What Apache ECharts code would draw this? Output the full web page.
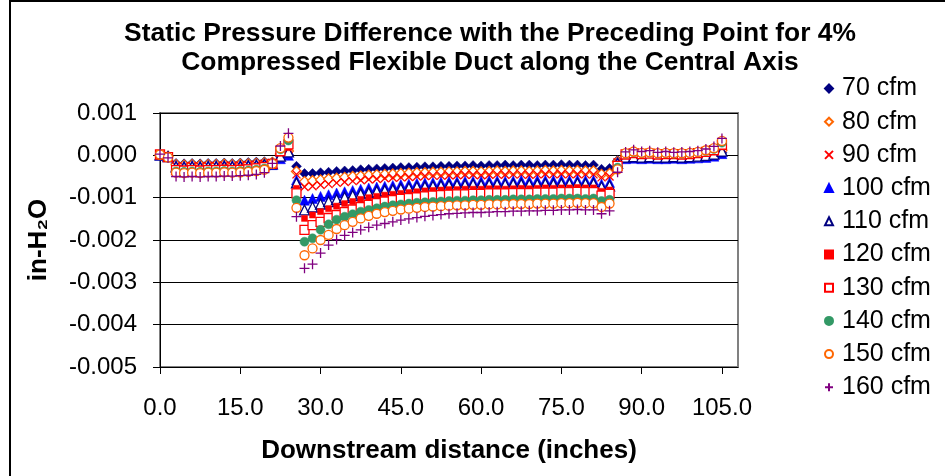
<!DOCTYPE html>
<html>
<head>
<meta charset="utf-8">
<script src="https://cdn.jsdelivr.net/npm/echarts@6/dist/echarts.min.js"></script>
<style>
html,body{margin:0;padding:0;background:#fff;}
#frame{position:absolute;left:9px;top:0;width:940px;height:480px;border-left:2px solid #000;border-top:2px solid #000;box-sizing:border-box;}
#chart{position:absolute;left:0;top:0;width:945px;height:476px;}
</style>
</head>
<body>
<div id="frame"></div>
<div id="chart"></div>
<script>
const titleText = 'Static Pressure Difference with the Preceding Point for 4%\nCompressed Flexible Duct along the Central Axis';
const xAxisName = 'Downstream distance (inches)';
const yAxisName = 'in-H\u2082O';
const xTicks = [0, 15, 30, 45, 60, 75, 90, 105];

// Downstream distance (inches)
const distance = [0,1.5,3,4.5,6,7.5,9,10.5,12,13.5,15,16.5,18,19.5,21,22.5,24,25.5,27,28.5,30,31.5,33,34.5,36,37.5,39,40.5,42,43.5,45,46.5,48,49.5,51,52.5,54,55.5,57,58.5,60,61.5,63,64.5,66,67.5,69,70.5,72,73.5,75,76.5,78,79.5,81,82.5,84,85.5,87,88.5,90,91.5,93,94.5,96,97.5,99,100.5,102,103.5,105];

const seriesNames = ['70 cfm','80 cfm','90 cfm','100 cfm','110 cfm','120 cfm','130 cfm','140 cfm','150 cfm','160 cfm'];

const cfm70 = [0.00000,-0.00002,
 -0.00019,-0.00020,-0.00019,-0.00020,-0.00019,-0.00019,-0.00018,-0.00019,-0.00018,-0.00017,-0.00016,-0.00015,-0.00016,
 -0.00003,0.00002,
 -0.00026,-0.00043,-0.00043,-0.00041,-0.00040,-0.00038,-0.00037,-0.00036,-0.00034,-0.00033,-0.00032,-0.00031,-0.00030,-0.00029,-0.00029,-0.00028,-0.00027,-0.00027,-0.00026,
 -0.00026,-0.00025,-0.00025,-0.00024,-0.00025,-0.00024,-0.00024,-0.00023,-0.00024,-0.00023,-0.00023,-0.00024,-0.00023,-0.00023,-0.00022,-0.00023,-0.00023,-0.00024,-0.00023,
 -0.00033,-0.00031,-0.00012,
 -0.00004,-0.00003,-0.00004,-0.00003,-0.00004,-0.00004,-0.00003,-0.00004,-0.00003,-0.00003,-0.00002,0.00000,0.00006];

const cfm80 = [0.00001,-0.00002,
 -0.00022,-0.00023,-0.00022,-0.00023,-0.00022,-0.00022,-0.00021,-0.00022,-0.00021,-0.00020,-0.00019,-0.00018,-0.00017,
 0.00003,0.00010,
 -0.00038,-0.00062,-0.00060,-0.00058,-0.00056,-0.00054,-0.00052,-0.00050,-0.00049,-0.00047,-0.00046,-0.00045,-0.00044,-0.00043,-0.00042,-0.00041,-0.00041,-0.00040,-0.00040,
 -0.00039,-0.00039,-0.00038,-0.00038,-0.00039,-0.00038,-0.00037,-0.00038,-0.00037,-0.00037,-0.00038,-0.00037,-0.00036,-0.00037,-0.00036,-0.00037,-0.00036,-0.00037,-0.00037,
 -0.00045,-0.00043,-0.00015,
 -0.00002,0.00000,-0.00001,0.00000,-0.00001,-0.00001,0.00000,-0.00001,0.00000,0.00001,0.00003,0.00005,0.00012];

const cfm90 = [0.00001,-0.00003,
 -0.00025,-0.00026,-0.00025,-0.00026,-0.00025,-0.00025,-0.00024,-0.00025,-0.00024,-0.00023,-0.00022,-0.00020,-0.00018,
 0.00006,0.00015,
 -0.00045,-0.00075,-0.00073,-0.00070,-0.00068,-0.00065,-0.00063,-0.00061,-0.00059,-0.00057,-0.00056,-0.00054,-0.00053,-0.00052,-0.00051,-0.00050,-0.00049,-0.00048,-0.00048,
 -0.00047,-0.00047,-0.00046,-0.00046,-0.00047,-0.00046,-0.00045,-0.00046,-0.00045,-0.00045,-0.00046,-0.00045,-0.00044,-0.00045,-0.00044,-0.00045,-0.00044,-0.00045,-0.00045,
 -0.00052,-0.00050,-0.00016,
 -0.00001,0.00001,0.00000,0.00001,0.00000,0.00000,0.00001,0.00000,0.00001,0.00002,0.00004,0.00007,0.00016];

const cfm100 = [0.00000,-0.00003,
 -0.00024,-0.00025,-0.00024,-0.00025,-0.00024,-0.00024,-0.00023,-0.00024,-0.00023,-0.00022,-0.00021,-0.00020,-0.00022,
 -0.00008,0.00000,
 -0.00058,-0.00106,-0.00102,-0.00097,-0.00093,-0.00089,-0.00086,-0.00083,-0.00080,-0.00077,-0.00075,-0.00073,-0.00071,-0.00069,-0.00068,-0.00066,-0.00065,-0.00064,-0.00063,
 -0.00062,-0.00062,-0.00061,-0.00061,-0.00061,-0.00060,-0.00060,-0.00061,-0.00060,-0.00059,-0.00060,-0.00059,-0.00059,-0.00059,-0.00058,-0.00059,-0.00058,-0.00059,-0.00059,
 -0.00068,-0.00064,-0.00016,
 -0.00008,-0.00007,-0.00008,-0.00007,-0.00008,-0.00008,-0.00007,-0.00008,-0.00007,-0.00006,-0.00005,-0.00002,0.00004];

const cfm110 = [0.00001,-0.00003,
 -0.00027,-0.00028,-0.00027,-0.00028,-0.00027,-0.00027,-0.00026,-0.00027,-0.00026,-0.00025,-0.00024,-0.00022,-0.00020,
 -0.00002,0.00008,
 -0.00065,-0.00129,-0.00122,-0.00115,-0.00109,-0.00104,-0.00099,-0.00095,-0.00091,-0.00088,-0.00085,-0.00083,-0.00081,-0.00079,-0.00077,-0.00075,-0.00074,-0.00073,-0.00072,
 -0.00071,-0.00070,-0.00070,-0.00069,-0.00070,-0.00069,-0.00068,-0.00069,-0.00068,-0.00068,-0.00069,-0.00068,-0.00067,-0.00068,-0.00067,-0.00067,-0.00066,-0.00067,-0.00067,
 -0.00075,-0.00072,-0.00019,
 -0.00004,-0.00003,-0.00004,-0.00003,-0.00004,-0.00004,-0.00003,-0.00004,-0.00003,-0.00002,0.00000,0.00003,0.00010];

const cfm120 = [0.00001,-0.00004,
 -0.00031,-0.00032,-0.00031,-0.00032,-0.00031,-0.00031,-0.00030,-0.00031,-0.00030,-0.00029,-0.00027,-0.00025,-0.00021,
 0.00005,0.00018,
 -0.00078,-0.00149,-0.00141,-0.00133,-0.00126,-0.00120,-0.00114,-0.00109,-0.00104,-0.00100,-0.00097,-0.00094,-0.00092,-0.00090,-0.00088,-0.00086,-0.00084,-0.00083,-0.00082,
 -0.00081,-0.00081,-0.00080,-0.00080,-0.00080,-0.00079,-0.00079,-0.00080,-0.00079,-0.00078,-0.00079,-0.00078,-0.00077,-0.00078,-0.00077,-0.00077,-0.00076,-0.00077,-0.00077,
 -0.00085,-0.00082,-0.00022,
 0.00001,0.00003,0.00001,0.00002,0.00001,0.00001,0.00002,0.00001,0.00002,0.00003,0.00006,0.00010,0.00020];

const cfm130 = [0.00002,-0.00004,
 -0.00035,-0.00036,-0.00035,-0.00036,-0.00035,-0.00035,-0.00034,-0.00035,-0.00034,-0.00033,-0.00031,-0.00028,-0.00020,
 0.00010,0.00026,
 -0.00090,-0.00176,-0.00165,-0.00157,-0.00148,-0.00141,-0.00134,-0.00128,-0.00122,-0.00117,-0.00113,-0.00109,-0.00106,-0.00103,-0.00101,-0.00099,-0.00097,-0.00095,-0.00094,
 -0.00093,-0.00092,-0.00092,-0.00091,-0.00091,-0.00090,-0.00090,-0.00090,-0.00089,-0.00089,-0.00089,-0.00088,-0.00088,-0.00088,-0.00087,-0.00087,-0.00086,-0.00087,-0.00087,
 -0.00095,-0.00091,-0.00025,
 0.00002,0.00005,0.00003,0.00004,0.00002,0.00003,0.00003,0.00002,0.00003,0.00005,0.00008,0.00012,0.00025];

const cfm140 = [0.00002,-0.00005,
 -0.00038,-0.00039,-0.00038,-0.00039,-0.00038,-0.00038,-0.00037,-0.00038,-0.00037,-0.00036,-0.00034,-0.00031,-0.00020,
 0.00014,0.00035,
 -0.00106,-0.00204,-0.00196,-0.00176,-0.00163,-0.00152,-0.00145,-0.00139,-0.00133,-0.00129,-0.00125,-0.00121,-0.00118,-0.00116,-0.00114,-0.00112,-0.00111,-0.00110,-0.00109,
 -0.00108,-0.00107,-0.00107,-0.00106,-0.00106,-0.00105,-0.00105,-0.00105,-0.00104,-0.00104,-0.00104,-0.00103,-0.00103,-0.00103,-0.00102,-0.00102,-0.00102,-0.00103,-0.00102,
 -0.00108,-0.00105,-0.00029,
 0.00004,0.00007,0.00005,0.00006,0.00004,0.00005,0.00004,0.00004,0.00005,0.00007,0.00010,0.00015,0.00030];

const cfm150 = [0.00002,-0.00005,
 -0.00041,-0.00042,-0.00041,-0.00042,-0.00041,-0.00041,-0.00040,-0.00041,-0.00040,-0.00039,-0.00037,-0.00034,-0.00020,
 0.00017,0.00042,
 -0.00124,-0.00236,-0.00220,-0.00200,-0.00188,-0.00174,-0.00165,-0.00157,-0.00149,-0.00143,-0.00138,-0.00134,-0.00131,-0.00128,-0.00126,-0.00124,-0.00122,-0.00121,-0.00120,
 -0.00119,-0.00118,-0.00118,-0.00117,-0.00117,-0.00116,-0.00116,-0.00116,-0.00115,-0.00115,-0.00115,-0.00114,-0.00114,-0.00114,-0.00113,-0.00113,-0.00112,-0.00113,-0.00113,
 -0.00122,-0.00114,-0.00033,
 0.00005,0.00009,0.00006,0.00007,0.00005,0.00006,0.00005,0.00005,0.00006,0.00008,0.00012,0.00017,0.00034];

const cfm160 = [0.00003,-0.00006,
 -0.00050,-0.00051,-0.00050,-0.00051,-0.00050,-0.00050,-0.00049,-0.00049,-0.00048,-0.00047,-0.00045,-0.00041,-0.00019,
 0.00022,0.00052,
 -0.00145,-0.00267,-0.00257,-0.00231,-0.00212,-0.00199,-0.00189,-0.00182,-0.00176,-0.00170,-0.00165,-0.00161,-0.00157,-0.00153,-0.00150,-0.00147,-0.00144,-0.00142,-0.00140,
 -0.00138,-0.00137,-0.00136,-0.00135,-0.00135,-0.00134,-0.00133,-0.00133,-0.00132,-0.00132,-0.00131,-0.00131,-0.00130,-0.00130,-0.00129,-0.00129,-0.00128,-0.00129,-0.00129,
 -0.00138,-0.00131,-0.00040,
 0.00008,0.00013,0.00009,0.00011,0.00007,0.00009,0.00007,0.00008,0.00009,0.00011,0.00015,0.00021,0.00040];

const seriesValues = [cfm70, cfm80, cfm90, cfm100, cfm110, cfm120, cfm130, cfm140, cfm150, cfm160];

const X_PATH = 'path://M0,0L10,10M10,0L0,10';
const PLUS_PATH = 'path://M5,0L5,10M0,5L10,5';
const markerStyles = [
  {symbol:'diamond', size:10, fill:'#000080', stroke:'#000080', bw:0.5},
  {symbol:'diamond', size:10, fill:'#ffffff', stroke:'#FF6600', bw:1.3},
  {symbol:X_PATH, size:8, fill:'#FF0000', stroke:'#FF0000', bw:1.3},
  {symbol:'triangle', size:10, fill:'#0000FF', stroke:'#0000FF', bw:0.5},
  {symbol:'triangle', size:10, fill:'#ffffff', stroke:'#000080', bw:1.3},
  {symbol:'rect', size:6, fill:'#FF0000', stroke:'#FF0000', bw:0.5},
  {symbol:'rect', size:9, fill:'#ffffff', stroke:'#FF0000', bw:1.3},
  {symbol:'circle', size:9, fill:'#339966', stroke:'#339966', bw:0.5},
  {symbol:'circle', size:9, fill:'#ffffff', stroke:'#FF6600', bw:1.3},
  {symbol:PLUS_PATH, size:10, fill:'#800080', stroke:'#800080', bw:1.3}
];

const FONT = '"Liberation Sans", Arial, sans-serif';

const series = seriesNames.map((name, i) => ({
  name: name,
  type: 'scatter',
  symbol: markerStyles[i].symbol,
  symbolSize: markerStyles[i].size,
  itemStyle: {color: markerStyles[i].fill, borderColor: markerStyles[i].stroke, borderWidth: markerStyles[i].bw, opacity: 1},
  emphasis: {disabled: true},
  data: distance.map((d, j) => [d, seriesValues[i][j]])
}));

const chart = echarts.init(document.getElementById('chart'), null, {renderer: 'canvas'});
chart.setOption({
  animation: false,
  backgroundColor: 'transparent',
  title: {
    text: titleText,
    left: 485,
    top: 14,
    textAlign: 'center',
    textStyle: {fontFamily: FONT, fontSize: 26.4, fontWeight: 'bold', color: '#000', lineHeight: 29}
  },
  legend: {
    orient: 'vertical',
    left: 824,
    top: 76,
    padding: 0,
    itemWidth: 8,
    itemHeight: 8,
    itemGap: 8.2,
    symbolKeepAspect: true,
    selectedMode: false,
    data: seriesNames,
    textStyle: {fontFamily: FONT, fontSize: 25, color: '#000', lineHeight: 25, padding: [0, 0, 0, 4]}
  },
  grid: {left: 160, right: 207, top: 113, bottom: 109, containLabel: false, outerBoundsMode: 'none', show: true, borderColor: '#808080', borderWidth: 2, backgroundColor: 'transparent'},
  xAxis: {
    type: 'value',
    min: 0,
    max: 108,
    interval: 15,
    name: xAxisName,
    nameLocation: 'middle',
    nameGap: 71,
    nameTextStyle: {fontFamily: FONT, fontSize: 26, fontWeight: 'bold', color: '#000'},
    axisLine: {show: true, onZero: false, lineStyle: {color: '#000', width: 1}},
    axisTick: {show: true, inside: false, length: 7, customValues: xTicks, lineStyle: {color: '#000', width: 1}},
    axisLabel: {customValues: xTicks, margin: 29, fontFamily: FONT, fontSize: 24, color: '#000', formatter: v => Number(v).toFixed(1)},
    splitLine: {show: false}
  },
  yAxis: {
    type: 'value',
    min: -0.005,
    max: 0.001,
    interval: 0.001,
    name: yAxisName,
    nameLocation: 'middle',
    nameGap: 108,
    nameRotate: 90,
    nameTextStyle: {fontFamily: FONT, fontSize: 26, fontWeight: 'bold', color: '#000'},
    axisLine: {show: true, onZero: false, lineStyle: {color: '#000', width: 1}},
    axisTick: {show: true, inside: false, length: 7, lineStyle: {color: '#000', width: 1}},
    axisLabel: {margin: 23, fontFamily: FONT, fontSize: 24, color: '#000', formatter: v => (Math.abs(v) < 1e-9 ? 0 : v).toFixed(3)},
    splitLine: {show: true, lineStyle: {color: '#000', width: 1}}
  },
  series: series
});
</script>
</body>
</html>
